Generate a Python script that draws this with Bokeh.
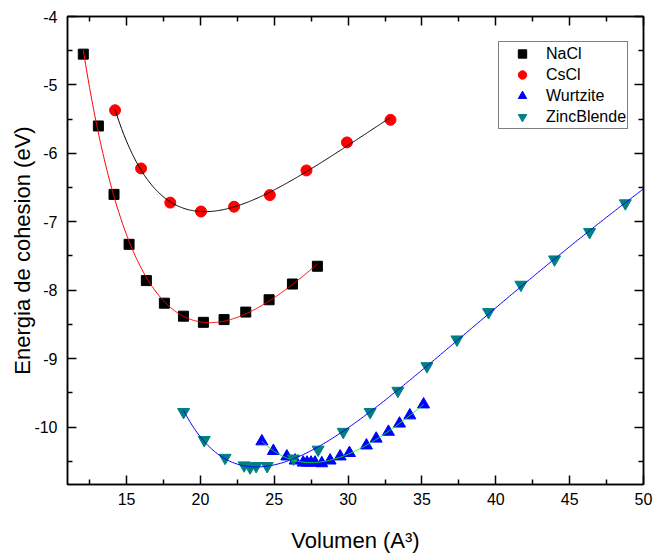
import numpy as np
from bokeh.plotting import figure
from bokeh.models import (LinearAxis, Range1d, Legend, LegendItem, FixedTicker,
                          CustomJSTickFormatter)
from bokeh.embed import file_html
from bokeh.resources import INLINE

# ---- data ----
nacl_v = [12.07, 13.09, 14.15, 15.17, 16.34, 17.56, 18.85, 20.20, 21.60, 23.07, 24.65, 26.23, 27.92]
nacl_e = [-4.55, -5.60, -6.60, -7.33, -7.86, -8.19, -8.38, -8.47, -8.43, -8.32, -8.14, -7.91, -7.65]

cscl_v = [14.22, 15.98, 17.96, 20.04, 22.28, 24.70, 27.18, 29.92, 32.87]
cscl_e = [-5.37, -6.22, -6.72, -6.85, -6.78, -6.61, -6.25, -5.84, -5.51]

wurtz_v = [24.16, 24.94, 25.85, 26.41, 26.96, 27.22, 27.49, 27.76, 28.22, 28.78,
           29.46, 30.09, 31.24, 31.90, 32.73, 33.48, 34.18, 35.11]
wurtz_e = [-10.21, -10.35, -10.43, -10.49, -10.52, -10.52, -10.52, -10.52, -10.53, -10.49,
           -10.43, -10.38, -10.27, -10.17, -10.07, -9.95, -9.83, -9.67]

zinc_v = [18.86, 20.26, 21.67, 22.96, 23.36, 23.77, 24.52, 26.30, 27.97, 29.67, 31.49,
          33.37, 35.34, 37.37, 39.51, 41.70, 43.98, 46.35, 48.77]
zinc_e = [-9.78, -10.19, -10.45, -10.56, -10.59, -10.57, -10.57, -10.46, -10.33, -10.07, -9.78,
          -9.47, -9.11, -8.72, -8.32, -7.92, -7.55, -7.15, -6.73]

x_major = [15, 20, 25, 30, 35, 40, 45, 50]
x_minor = [12.5, 17.5, 22.5, 27.5, 32.5, 37.5, 42.5, 47.5]
y_major = [-10, -9, -8, -7, -6, -5, -4]
y_minor = [-10.5, -9.5, -8.5, -7.5, -6.5, -5.5, -4.5]

FONT = "Liberation Sans"


def eos_fit(v, e, lo, hi):
    """Least-squares Birch-Murnaghan-type fit (cubic in V^-2/3) of the data."""
    v = np.asarray(v, dtype=float)
    e = np.asarray(e, dtype=float)
    coef = np.polyfit(v ** (-2.0 / 3.0), e, 3)
    vs = np.linspace(lo, hi, 300)
    return vs, np.polyval(coef, vs ** (-2.0 / 3.0))


p = figure(width=654, height=555, output_backend="svg", toolbar_location=None,
           x_range=Range1d(11, 50), y_range=Range1d(-10.84, -4),
           min_border_left=67, min_border_right=11, min_border_top=16, min_border_bottom=71,
           background_fill_color="white", border_fill_color="white")
p.xgrid.visible = False
p.ygrid.visible = False
p.outline_line_color = "black"
p.outline_line_width = 1.5

plain = CustomJSTickFormatter(code="return tick.toString();")


def style_axis(ax, ticks, minor, labels=True):
    ax.ticker = FixedTicker(ticks=ticks, minor_ticks=minor)
    ax.axis_line_width = 1.5
    ax.axis_line_color = "black"
    ax.major_tick_in = 9
    ax.major_tick_out = 0
    ax.minor_tick_in = 5
    ax.minor_tick_out = 0
    ax.major_tick_line_width = 1.5
    ax.minor_tick_line_width = 1.5
    ax.major_tick_line_color = "black"
    ax.minor_tick_line_color = "black"
    if labels:
        ax.formatter = plain
        ax.major_label_text_font = FONT
        ax.major_label_text_font_size = "16px"
        ax.major_label_text_color = "black"
        ax.axis_label_text_font = FONT
        ax.axis_label_text_font_size = "22px"
        ax.axis_label_text_font_style = "normal"
        ax.axis_label_text_color = "black"
    else:
        ax.major_label_text_color = None
        ax.major_label_text_font_size = "0px"
        ax.major_label_standoff = 0


xa = p.xaxis[0]
ya = p.yaxis[0]
style_axis(xa, x_major, x_minor)
style_axis(ya, y_major, y_minor)
xa.axis_label = "Volumen (A³)"
ya.axis_label = "Energia de cohesion (eV)"
xa.major_label_standoff = 8
xa.axis_label_standoff = 20
ya.major_label_standoff = 10
ya.axis_label_standoff = -4

top_ax = LinearAxis()
right_ax = LinearAxis()
style_axis(top_ax, x_major, x_minor, labels=False)
style_axis(right_ax, y_major, y_minor, labels=False)
p.add_layout(top_ax, "above")
p.add_layout(right_ax, "right")

# markers
r_nacl = p.scatter(nacl_v, nacl_e, marker="square", size=10, fill_color="black",
                   line_color="black")
r_cscl = p.scatter(cscl_v, cscl_e, marker="circle", size=11, fill_color="#ff0000",
                   line_color="#ff0000")
r_wurtz = p.scatter(wurtz_v, wurtz_e, marker="triangle", size=12, fill_color="#0000ff",
                    line_color="#0000ff")
r_zinc = p.scatter(zinc_v, zinc_e, marker="inverted_triangle", size=12, fill_color="#008080",
                   line_color="#008080")

# fitted curves
fx, fy = eos_fit(nacl_v, nacl_e, min(nacl_v), max(nacl_v))
p.line(fx, fy, line_color="#ff0000", line_width=1)
fx, fy = eos_fit(cscl_v, cscl_e, min(cscl_v), max(cscl_v))
p.line(fx, fy, line_color="black", line_width=1)
fx, fy = eos_fit(wurtz_v, wurtz_e, min(wurtz_v), max(wurtz_v))
p.line(fx, fy, line_color="#00ff00", line_width=1)
fx, fy = eos_fit(zinc_v, zinc_e, min(zinc_v), 50)
p.line(fx, fy, line_color="#0000ff", line_width=1)

legend = Legend(items=[
    LegendItem(label="NaCl", renderers=[r_nacl]),
    LegendItem(label="CsCl", renderers=[r_cscl]),
    LegendItem(label="Wurtzite", renderers=[r_wurtz]),
    LegendItem(label="ZincBlende", renderers=[r_zinc]),
], location=(431, 355))
legend.label_text_font = FONT
legend.label_text_font_size = "16px"
legend.label_text_color = "black"
legend.glyph_width = 44
legend.glyph_height = 21
legend.label_height = 21
legend.label_standoff = 2
legend.spacing = 0
legend.padding = 1
legend.margin = 0
legend.border_line_color = "black"
legend.border_line_width = 1
legend.background_fill_color = "white"
legend.background_fill_alpha = 1
p.add_layout(legend, "center")

open("out.html", "w").write(file_html(p, INLINE))
